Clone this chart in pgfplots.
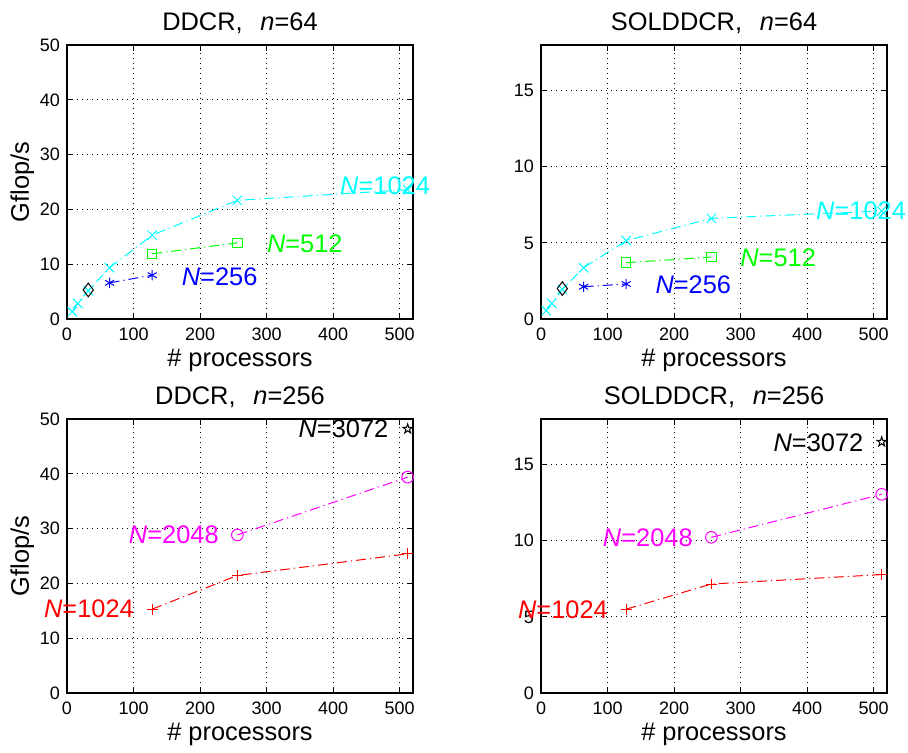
\documentclass[border=0pt]{standalone}
\usepackage{fontspec}
\setmainfont{Liberation Sans}
\usepackage{pgfplots}
\pgfplotsset{compat=1.18}

\definecolor{mcyan}{rgb}{0,1,1}
\definecolor{mgreen}{rgb}{0,1,0}
\definecolor{mblue}{rgb}{0,0,1}
\definecolor{mred}{rgb}{1,0,0}
\definecolor{mmag}{rgb}{1,0,1}

% MATLAB-like pentagram outline
\pgfdeclareplotmark{pentagram}{%
  \pgfpathmoveto{\pgfpointpolar{90}{\pgfplotmarksize}}%
  \pgfpathlineto{\pgfpointpolar{126}{0.382\pgfplotmarksize}}%
  \pgfpathlineto{\pgfpointpolar{162}{\pgfplotmarksize}}%
  \pgfpathlineto{\pgfpointpolar{198}{0.382\pgfplotmarksize}}%
  \pgfpathlineto{\pgfpointpolar{234}{\pgfplotmarksize}}%
  \pgfpathlineto{\pgfpointpolar{270}{0.382\pgfplotmarksize}}%
  \pgfpathlineto{\pgfpointpolar{306}{\pgfplotmarksize}}%
  \pgfpathlineto{\pgfpointpolar{342}{0.382\pgfplotmarksize}}%
  \pgfpathlineto{\pgfpointpolar{18}{\pgfplotmarksize}}%
  \pgfpathlineto{\pgfpointpolar{54}{0.382\pgfplotmarksize}}%
  \pgfpathclose\pgfusepathqstroke}

\newcommand{\bigfont}{\fontsize{12.7}{15}\selectfont}

\tikzset{lab/.style={font=\bigfont, anchor=west, inner sep=0pt}}

\pgfplotsset{
  panel/.style={
    scale only axis, width=173pt, height=137pt, anchor=south west,
    xmin=0, xmax=520, ymin=0,
    xtick={0,100,...,500},
    tick align=inside, major tick length=3pt,
    grid=major,
    grid style={black, line width=0.5pt, dash pattern=on 0.5pt off 2pt},
    axis line style={line width=0.7pt},
    every tick/.style={black, line width=0.5pt},
    tick label style={font=\fontsize{9}{10}\selectfont},
    /pgf/number format/assume math mode=true,
    xticklabel style={anchor=base, yshift=-10.8pt},
    every axis title shift=0pt,
    title style={font=\bigfont, at={(axis description cs:0.5,1)}, anchor=base, yshift=7.2pt, inner sep=0pt},
    xlabel style={font=\bigfont, at={(axis description cs:0.5,0)}, anchor=base, yshift=-23.8pt, inner sep=0pt},
    ylabel style={font=\bigfont, at={(axis description cs:-0.11,0.5)}, anchor=base, inner sep=0pt},
    xlabel={\# processors},
    clip=false,
    every axis plot/.append style={line width=0.5pt, dash pattern=on 5pt off 2pt on 0.6pt off 2pt},
  },
}

\begin{document}
\begin{tikzpicture}
\path[use as bounding box] (0,0) rectangle (454pt,376pt);

% ---- DDCR, n=64
\begin{axis}[panel, at={(33.5pt,216.5pt)}, ymax=50, ytick={0,10,...,50},
  title={DDCR,\hspace{0.7em}\textit{n}=64}, ylabel={Gflop/s}]
\addplot[mcyan, mark=x, mark size=3.3pt, mark options={solid, mcyan}] coordinates {
  (8,1.34) (16,2.86) (32,5.17) (64,9.37) (128,15.3) (256,21.65) (512,23.6)};
\addplot[black, only marks, mark=diamond, mark size=3.4pt, mark options={solid, black}] coordinates {(32,5.3)};
\addplot[mblue, mark=asterisk, mark size=2.6pt, mark options={solid, mblue}] coordinates {(64,6.6) (128,8.0)};
\addplot[mgreen, mark=square, mark size=2.35pt, mark options={solid, mgreen}] coordinates {(128,11.9) (256,13.9)};
\node[lab, mblue] at (axis cs:172,7.7) {\textit{N}=256};
\node[lab, mgreen] at (axis cs:300,13.75) {\textit{N}=512};
\node[lab, mcyan] at (axis cs:410,24.4) {\textit{N}=1024};
\end{axis}

% ---- SOLDDCR, n=64
\begin{axis}[panel, at={(270.5pt,216.5pt)}, ymax=18, ytick={0,5,10,15},
  title={SOLDDCR,\hspace{0.7em}\textit{n}=64}]
\addplot[mcyan, mark=x, mark size=3.3pt, mark options={solid, mcyan}] coordinates {
  (8,0.55) (16,1.03) (32,1.95) (64,3.37) (128,5.15) (256,6.61) (512,7.1)};
\addplot[black, only marks, mark=diamond, mark size=3.4pt, mark options={solid, black}] coordinates {(32,2.0)};
\addplot[mblue, mark=asterisk, mark size=2.6pt, mark options={solid, mblue}] coordinates {(64,2.12) (128,2.3)};
\addplot[mgreen, mark=square, mark size=2.35pt, mark options={solid, mgreen}] coordinates {(128,3.7) (256,4.07)};
\node[lab, mblue] at (axis cs:171.5,2.26) {\textit{N}=256};
\node[lab, mgreen] at (axis cs:299,4.0) {\textit{N}=512};
\node[lab, mcyan] at (axis cs:413,7.12) {\textit{N}=1024};
\end{axis}

% ---- DDCR, n=256
\begin{axis}[panel, at={(33.5pt,29.5pt)}, ymax=50, ytick={0,10,...,50},
  title={DDCR,\hspace{0.7em}\textit{n}=256}, ylabel={Gflop/s}]
\addplot[mred, mark=+, mark size=2.7pt, mark options={solid, mred}] coordinates {(128,15.3) (256,21.45) (512,25.4)};
\addplot[mmag, mark=o, mark size=2.9pt, mark options={solid, mmag}] coordinates {(256,28.85) (512,39.4)};
\addplot[black, only marks, mark=pentagram, mark size=2.5pt, mark options={solid, black}] coordinates {(512,48.2)};
\node[lab, mred] at (axis cs:-35,15.3) {\textit{N}=1024};
\node[lab, mmag] at (axis cs:92.5,28.9) {\textit{N}=2048};
\node[lab, black] at (axis cs:347.5,48.3) {\textit{N}=3072};
\end{axis}

% ---- SOLDDCR, n=256
\begin{axis}[panel, at={(270.5pt,29.5pt)}, ymax=18, ytick={0,5,10,15},
  title={SOLDDCR,\hspace{0.7em}\textit{n}=256}]
\addplot[mred, mark=+, mark size=2.7pt, mark options={solid, mred}] coordinates {(128,5.51) (256,7.16) (512,7.78)};
\addplot[mmag, mark=o, mark size=2.9pt, mark options={solid, mmag}] coordinates {(256,10.23) (512,13.05)};
\addplot[black, only marks, mark=pentagram, mark size=2.5pt, mark options={solid, black}] coordinates {(512,16.5)};
\node[lab, mred] at (axis cs:-35,5.47) {\textit{N}=1024};
\node[lab, mmag] at (axis cs:92.5,10.2) {\textit{N}=2048};
\node[lab, black] at (axis cs:349,16.47) {\textit{N}=3072};
\end{axis}
\end{tikzpicture}
\end{document}
